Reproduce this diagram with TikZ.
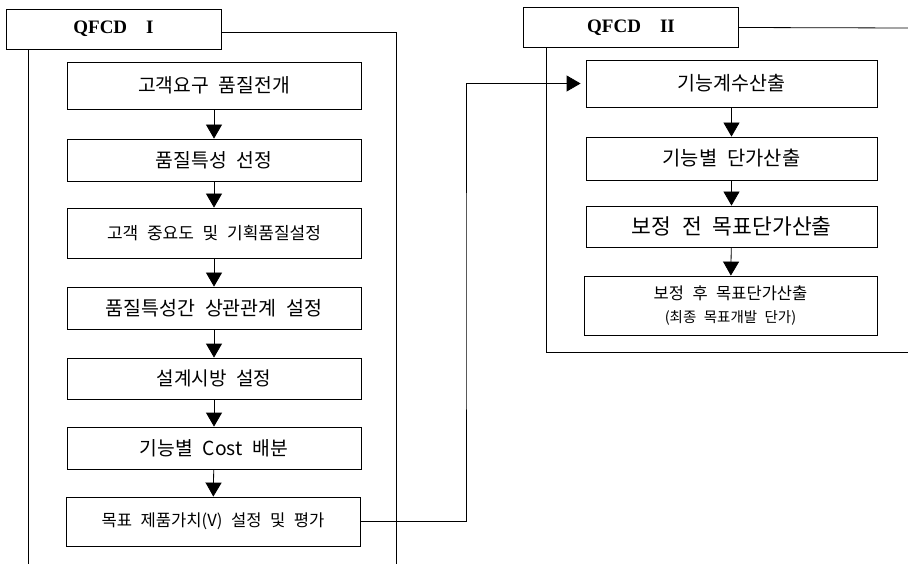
\documentclass[tikz,border=0pt]{standalone}
\usepackage{fontspec}
\setmainfont{Liberation Serif}
\newfontfamily\kr[WordSpace=2.3]{Noto Sans CJK KR}
\usetikzlibrary{arrows.meta}

\begin{document}
\begin{tikzpicture}
        [x=1pt,y=-1pt,line width=0.8pt,
         titlebox/.style={draw, rectangle, inner sep=0pt, minimum width=215pt,
           minimum height=40pt, font=\bfseries\fontsize{19}{22}\selectfont},
         stepbox/.style={draw, rectangle, inner sep=0pt, minimum width=294pt},
         flow/.style={-{Triangle[length=14pt,width=16pt]}}]
        \useasboundingbox (0,0) rectangle (908,564);
        %-----QFCD I
         \node[titlebox]  (QI) at (113.5,29) {QFCD\quad I};
         \node[stepbox, minimum height=47pt, font=\kr\fontsize{19.3}{22}\selectfont]  (S1) at (214,85.5) {고객요구 품질전개};
         \node[stepbox, minimum height=42pt, font=\kr\fontsize{19.3}{22}\selectfont]  (S2) at (214,160) {품질특성 선정};
         \node[stepbox, minimum height=50pt, font=\kr\fontsize{17}{20}\selectfont]  (S3) at (214,233) {고객 중요도 및 기획품질설정};
         \node[stepbox, minimum height=42pt, font=\kr\fontsize{19.5}{22}\selectfont]  (S4) at (214,308) {품질특성간 상관관계 설정};
         \node[stepbox, minimum height=41pt, font=\kr\fontsize{19}{22}\selectfont]  (S5) at (214,378.5) {설계시방 설정};
         \node[stepbox, minimum height=42pt, font=\kr\fontsize{19.3}{22}\selectfont]  (S6) at (214,448) {기능별 Cost 배분};
         \node[stepbox, minimum height=49pt, font=\kr\fontsize{16.6}{20}\selectfont]  (S7) at (213,521.5) {목표 제품가치(V) 설정 및 평가};
         \coordinate (IL) at (28,564);
         \coordinate (IR) at (396,564);
        %-----QFCD II
         \node[titlebox]  (QII) at (631,27.5) {QFCD\quad II};
         \node[stepbox, minimum width=291pt, minimum height=47pt, font=\kr\fontsize{19.5}{22}\selectfont]  (T1) at (731.5,83.5) {기능계수산출};
         \node[stepbox, minimum width=291pt, minimum height=43pt, font=\kr\fontsize{19.8}{22}\selectfont]  (T2) at (731.5,158.5) {기능별 단가산출};
         \node[stepbox, minimum width=291pt, minimum height=41pt, font=\kr\fontsize{21.5}{24}\selectfont]  (T3) at (731.5,226.5) {보정 전 목표단가산출};
         \node[stepbox, minimum width=293pt, minimum height=59pt, align=center, font=\kr]  (T4) at (730.5,305.5)
           {{\fontsize{16.5}{20}\selectfont 보정 후 목표단가산출}\\[9pt]{\fontsize{14.5}{16}\selectfont (최종 목표개발 단가)}};
         \coordinate (IIT) at (908,28);
         \coordinate (IIL) at (546,352);
         \coordinate (IIB) at (908,352);
         \coordinate (J) at (466,300);

         \draw ([yshift=-3pt]QI.east) -| (IR);
         \draw (QI.south -| IL) -- (IL);
         \draw (QII.east) -- (IIT);
         \draw (QII.south -| IIL) -- (IIL) -- (IIB);

         \foreach \from/\to in {S1/S2,S2/S3,S3/S4,S4/S5,S5/S6,S6/S7,T1/T2,T2/T3,T3/T4}
         \draw[flow] (\from) -- (\to);

         \draw[flow, shorten >=5pt] (S7.east) -| (J) |- (T1.west);
        \end{tikzpicture}
\end{document}
